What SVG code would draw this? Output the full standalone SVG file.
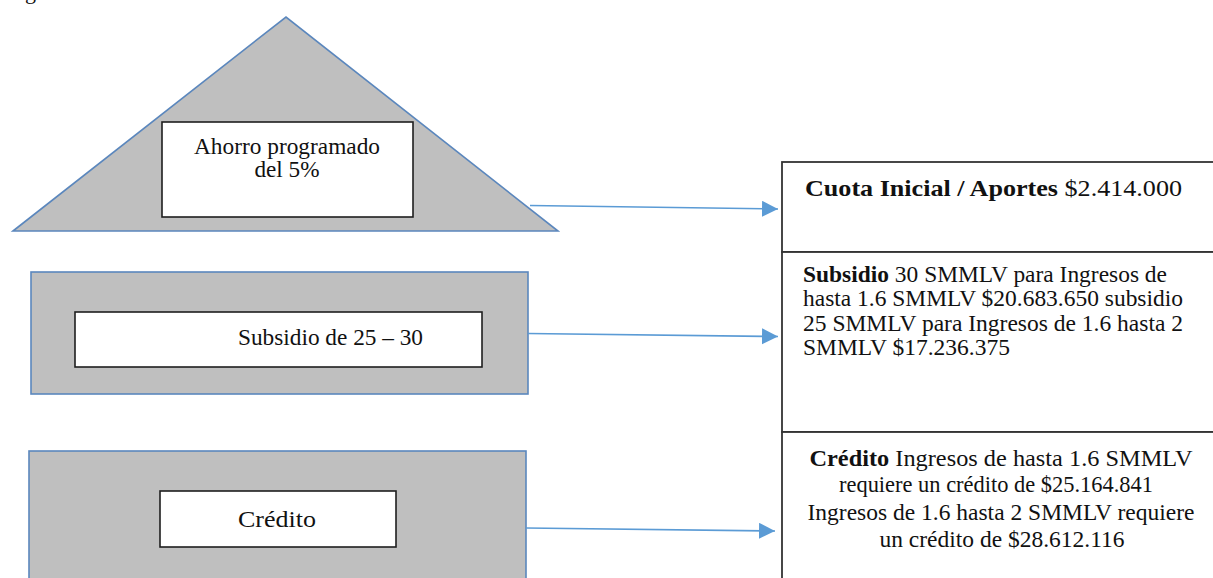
<svg xmlns="http://www.w3.org/2000/svg" width="1213" height="578" viewBox="0 0 1213 578">
<style>
.shape{fill:#bfbfbf;stroke:#5b87bd;stroke-width:1.6}
.inner{fill:#ffffff;stroke:#1e1e1e;stroke-width:1.6}
.box{fill:#ffffff;stroke:#333333;stroke-width:1.8}
.conn{stroke:#5b9bd5;stroke-width:1.6;fill:none}
text{font-family:"Liberation Serif","Times New Roman",serif;fill:#111111}
.b{font-weight:bold}
</style>
<defs>
<marker id="ah" markerUnits="userSpaceOnUse" markerWidth="17" markerHeight="17" refX="16" refY="8" orient="auto">
<path d="M0,0 L16,8 L0,16 z" fill="#5b9bd5"/>
</marker>
</defs>
<rect width="1213" height="578" fill="#ffffff"/>
<text x="25" y="-1" font-size="22">g</text>

<g id="node-ahorro">
<polygon class="shape" points="13,231 286,17 558,231"/>
<rect class="inner" x="162" y="122" width="251" height="95"/>
<text x="287" y="154" font-size="23" text-anchor="middle" textLength="186" lengthAdjust="spacingAndGlyphs">Ahorro programado</text>
<text x="287" y="177" font-size="23" text-anchor="middle" textLength="65" lengthAdjust="spacingAndGlyphs">del 5%</text>
</g>

<g id="node-subsidio">
<rect class="shape" x="31" y="272" width="497" height="122"/>
<rect class="inner" x="75" y="312" width="407" height="55"/>
<text x="238" y="345" font-size="23" textLength="185" lengthAdjust="spacingAndGlyphs">Subsidio de 25 – 30</text>
</g>

<g id="node-credito">
<rect class="shape" x="29" y="451" width="497" height="140"/>
<rect class="inner" x="160" y="491" width="236" height="56"/>
<text x="238" y="527" font-size="23" textLength="78" lengthAdjust="spacingAndGlyphs">Crédito</text>
</g>

<g id="node-cuota">
<rect class="box" x="782" y="162" width="440" height="90"/>
<text x="805" y="196" font-size="24" textLength="377" lengthAdjust="spacingAndGlyphs"><tspan class="b">Cuota Inicial / Aportes</tspan> $2.414.000</text>
</g>

<g id="node-subsidio-detalle">
<rect class="box" x="782" y="252" width="440" height="180"/>
<text x="803" y="282" font-size="23" textLength="364" lengthAdjust="spacingAndGlyphs"><tspan class="b">Subsidio</tspan> 30 SMMLV para Ingresos de</text>
<text x="803" y="306" font-size="23" textLength="380" lengthAdjust="spacingAndGlyphs">hasta 1.6 SMMLV $20.683.650 subsidio</text>
<text x="803" y="331" font-size="23" textLength="380" lengthAdjust="spacingAndGlyphs">25 SMMLV para Ingresos de 1.6 hasta 2</text>
<text x="803" y="355" font-size="23" textLength="207" lengthAdjust="spacingAndGlyphs">SMMLV $17.236.375</text>
</g>

<g id="node-credito-detalle">
<rect class="box" x="782" y="432" width="440" height="160"/>
<text x="1001" y="466" font-size="23" text-anchor="middle" textLength="383" lengthAdjust="spacingAndGlyphs"><tspan class="b">Crédito</tspan>  Ingresos de hasta 1.6 SMMLV</text>
<text x="996" y="492" font-size="23" text-anchor="middle" textLength="314" lengthAdjust="spacingAndGlyphs">requiere un crédito de $25.164.841</text>
<text x="1001" y="520" font-size="23" text-anchor="middle" textLength="387" lengthAdjust="spacingAndGlyphs">Ingresos de 1.6 hasta 2 SMMLV requiere</text>
<text x="1002" y="547" font-size="23" text-anchor="middle" textLength="245" lengthAdjust="spacingAndGlyphs">un crédito de $28.612.116</text>
</g>

<g id="connectors">
<line class="conn" x1="530" y1="205.5" x2="778" y2="209" marker-end="url(#ah)"/>
<line class="conn" x1="528" y1="333.5" x2="778" y2="336.5" marker-end="url(#ah)"/>
<line class="conn" x1="526" y1="528" x2="775" y2="531" marker-end="url(#ah)"/>
</g>
</svg>
